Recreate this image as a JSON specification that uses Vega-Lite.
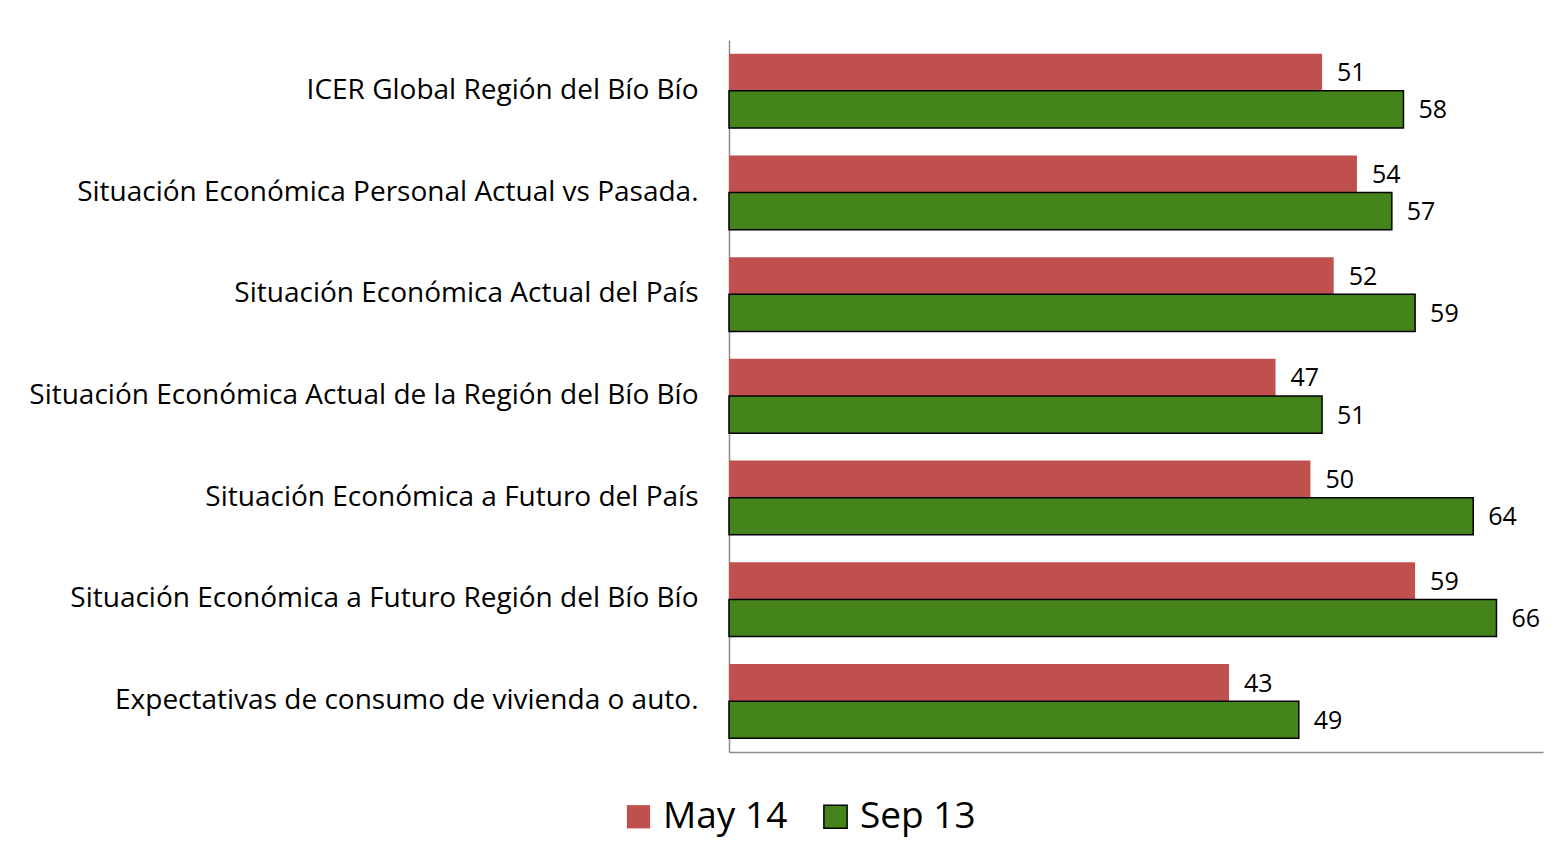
{
  "$schema": "https://vega.github.io/schema/vega-lite/v6.json",
  "autosize": {"type": "none"},
  "width": 814,
  "height": 712,
  "padding": {"left": 729, "top": 40, "right": 12, "bottom": 106},
  "background": "white",
  "config": {"view": {"stroke": null}, "font": "Open Sans"},
  "data": {"values": [
    {"cat": "ICER Global Región del Bío Bío", "serie": "May 14", "v": 51},
    {"cat": "ICER Global Región del Bío Bío", "serie": "Sep 13", "v": 58},
    {"cat": "Situación Económica Personal Actual vs Pasada.", "serie": "May 14", "v": 54},
    {"cat": "Situación Económica Personal Actual vs Pasada.", "serie": "Sep 13", "v": 57},
    {"cat": "Situación Económica Actual del País", "serie": "May 14", "v": 52},
    {"cat": "Situación Económica Actual del País", "serie": "Sep 13", "v": 59},
    {"cat": "Situación Económica Actual de la Región del Bío Bío", "serie": "May 14", "v": 47},
    {"cat": "Situación Económica Actual de la Región del Bío Bío", "serie": "Sep 13", "v": 51},
    {"cat": "Situación Económica a Futuro del País", "serie": "May 14", "v": 50},
    {"cat": "Situación Económica a Futuro del País", "serie": "Sep 13", "v": 64},
    {"cat": "Situación Económica a Futuro Región del Bío Bío", "serie": "May 14", "v": 59},
    {"cat": "Situación Económica a Futuro Región del Bío Bío", "serie": "Sep 13", "v": 66},
    {"cat": "Expectativas de consumo de vivienda o auto.", "serie": "May 14", "v": 43},
    {"cat": "Expectativas de consumo de vivienda o auto.", "serie": "Sep 13", "v": 49}
  ]},
  "encoding": {
    "y": {
      "field": "cat", "type": "nominal", "sort": null,
      "scale": {"paddingInner": 0.27, "paddingOuter": 0.135},
      "axis": {"title": null, "ticks": false, "labelFontSize": 28, "labelColor": "#000", "labelPadding": 31, "labelLimit": 800, "domainColor": "#8c8c8c", "domainWidth": 1.5, "labelFont": "Open Sans"}
    },
    "yOffset": {"field": "serie", "type": "nominal", "sort": ["May 14", "Sep 13"]},
    "x": {
      "field": "v", "type": "quantitative",
      "scale": {"domain": [0, 70]},
      "axis": {"title": null, "labels": false, "ticks": false, "grid": false, "domainColor": "#8c8c8c", "domainWidth": 1.5}
    }
  },
  "layer": [
    {
      "mark": {"type": "bar"},
      "encoding": {
        "color": {
          "field": "serie", "type": "nominal", "sort": ["May 14", "Sep 13"],
          "scale": {"domain": ["May 14", "Sep 13"], "range": ["#C0504D", "#45841B"]},
          "legend": {
            "title": null, "orient": "none", "direction": "horizontal",
            "legendX": -109, "legendY": 758,
            "labelFontSize": 37, "labelFont": "Open Sans", "labelColor": "#000",
            "symbolType": "square", "symbolSize": 540, "symbolStrokeWidth": 1.5,
            "labelOffset": 6, "columnPadding": 29
          }
        },
        "stroke": {
          "field": "serie", "type": "nominal", "sort": ["May 14", "Sep 13"],
          "scale": {"domain": ["May 14", "Sep 13"], "range": ["transparent", "#000000"]},
          "legend": {
            "title": null, "orient": "none", "direction": "horizontal",
            "legendX": -109, "legendY": 758,
            "labelFontSize": 37, "labelFont": "Open Sans", "labelColor": "#000",
            "symbolType": "square", "symbolSize": 540, "symbolStrokeWidth": 1.5,
            "labelOffset": 6, "columnPadding": 29
          }
        },
        "strokeWidth": {"value": 1.5}
      }
    },
    {
      "mark": {"type": "text", "align": "left", "dx": 15, "dy": 1, "fontSize": 25, "font": "Open Sans", "color": "#000"},
      "encoding": {"text": {"field": "v", "type": "quantitative"}}
    }
  ]
}
